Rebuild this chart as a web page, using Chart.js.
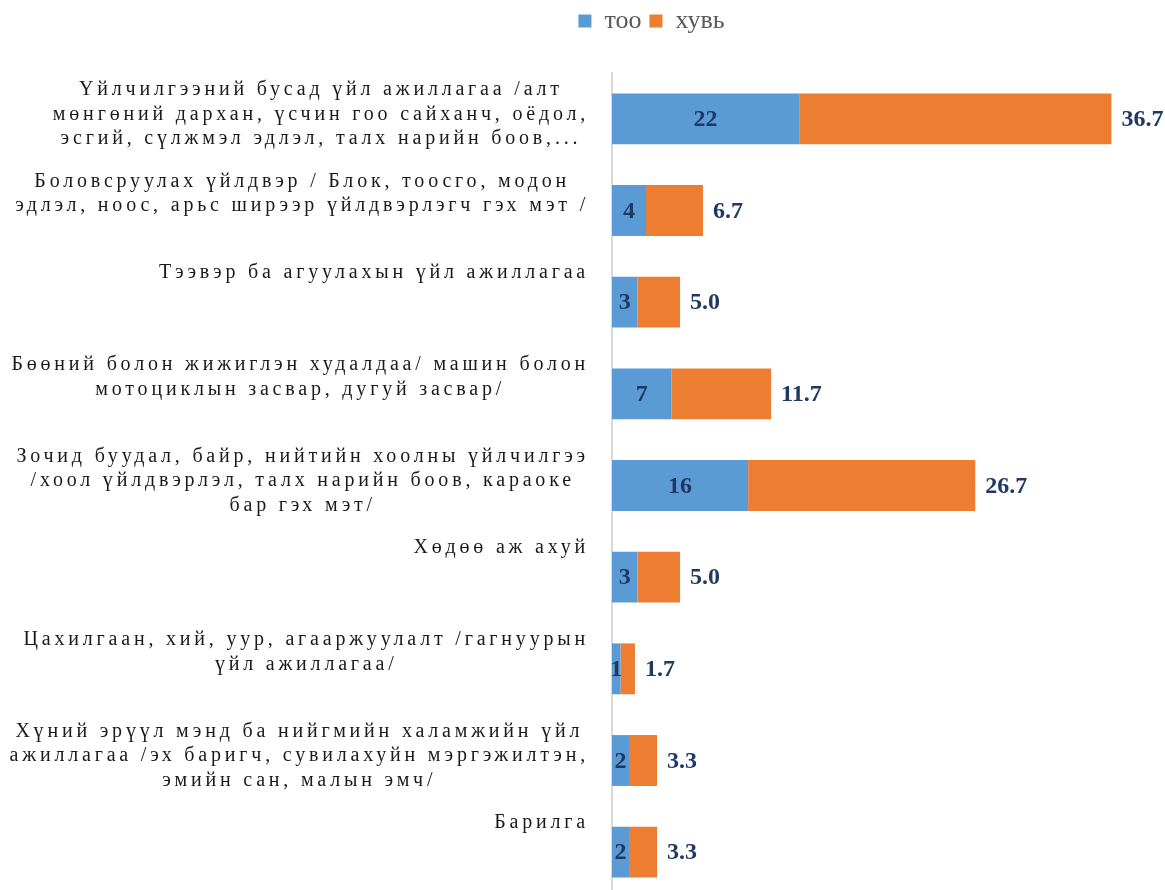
<!DOCTYPE html>
<html>
<head>
<meta charset="utf-8">
<script src="https://cdn.jsdelivr.net/npm/chart.js@4.4.1/dist/chart.umd.min.js"></script>
<style>
  html, body { margin: 0; padding: 0; background: #fff; overflow: hidden; }
  canvas { display: block; }
</style>
</head>
<body>
<canvas id="c" width="1165" height="900"></canvas>
<script>
const categories = [
  ["Үйлчилгээний бусад үйл ажиллагаа /алт", "мөнгөний дархан, үсчин гоо сайханч, оёдол,", "эсгий, сүлжмэл эдлэл, талх нарийн боов,..."],
  ["Боловсруулах үйлдвэр / Блок, тоосго, модон", "эдлэл, ноос, арьс ширээр үйлдвэрлэгч гэх мэт /"],
  ["Тээвэр ба агуулахын үйл ажиллагаа"],
  ["Бөөний болон жижиглэн худалдаа/ машин болон", "мотоциклын засвар, дугуй засвар/"],
  ["Зочид буудал, байр, нийтийн хоолны үйлчилгээ", "/хоол үйлдвэрлэл, талх нарийн боов, караоке", "бар гэх мэт/"],
  ["Хөдөө аж ахуй"],
  ["Цахилгаан, хий, уур, агааржуулалт /гагнуурын", "үйл ажиллагаа/"],
  ["Хүний эрүүл мэнд ба нийгмийн халамжийн үйл", "ажиллагаа /эх баригч, сувилахуйн мэргэжилтэн,", "эмийн сан, малын эмч/"],
  ["Барилга"]
];
const countValues = [22, 4, 3, 7, 16, 3, 1, 2, 2];
const percentValues = [36.7, 6.7, 5.0, 11.7, 26.7, 5.0, 1.7, 3.3, 3.3];
const seriesNames = ["тоо", "хувь"];

const catLabelPlugin = {
  id: 'catLabels',
  afterDraw(chart) {
    const ctx = chart.ctx, ys = chart.scales.y;
    const right = 589;
    ctx.save();
    ctx.font = '20px "Liberation Serif"';
    ctx.letterSpacing = '3.8px';
    ctx.fillStyle = '#1a1a1a';
    ctx.textBaseline = 'middle';
    ctx.textAlign = 'center';
    categories.forEach((lines, i) => {
      const yc = ys.getPixelForValue(i);
      const maxW = Math.max(...lines.map(l => ctx.measureText(l).width));
      const cx = right - maxW / 2;
      lines.forEach((l, j) => ctx.fillText(l, cx, yc - 29 + j * 24.5));
    });
    ctx.restore();
  }
};

const valueLabelPlugin = {
  id: 'valueLabels',
  afterDatasetsDraw(chart) {
    const ctx = chart.ctx;
    ctx.save();
    ctx.font = 'bold 24px "Liberation Serif"';
    ctx.fillStyle = '#1F3864';
    ctx.textBaseline = 'middle';
    chart.getDatasetMeta(0).data.forEach((el, i) => {
      ctx.textAlign = 'center';
      ctx.fillText(String(countValues[i]), (el.x + el.base) / 2, el.y + 1);
    });
    chart.getDatasetMeta(1).data.forEach((el, i) => {
      ctx.textAlign = 'left';
      ctx.fillText(percentValues[i].toFixed(1), el.x + 10, el.y + 1);
    });
    ctx.restore();
  }
};

new Chart(document.getElementById('c'), {
  type: 'bar',
  data: {
    labels: categories,
    datasets: [
      { label: seriesNames[0], data: countValues, backgroundColor: '#5B9BD5', stack: 's' },
      { label: seriesNames[1], data: percentValues, backgroundColor: '#ED7D31', stack: 's' }
    ]
  },
  options: {
    indexAxis: 'y',
    responsive: false,
    animation: false,
    devicePixelRatio: 1,
    layout: { padding: { left: 138, right: 0, top: 0, bottom: 2 } },
    datasets: { bar: { categoryPercentage: 0.555, barPercentage: 1.0 } },
    plugins: {
      legend: {
        position: 'top',
        labels: {
          boxWidth: 13, boxHeight: 13, padding: 8,
          color: '#595959',
          font: { family: '"Liberation Serif"', size: 26, lineHeight: 1 }
        }
      },
      tooltip: { enabled: false }
    },
    scales: {
      x: {
        stacked: true,
        position: 'top',
        min: 0, max: 65,
        display: true,
        grid: { display: false },
        border: { display: false },
        ticks: { display: false },
        afterFit: s => { s.height = 29; }
      },
      y: {
        stacked: true,
        grid: { display: false },
        border: { display: true, color: '#D9D9D9', width: 2 },
        ticks: { display: false },
        afterFit: s => { s.width = 612 - 138; }
      }
    }
  },
  plugins: [catLabelPlugin, valueLabelPlugin]
});
</script>
</body>
</html>
